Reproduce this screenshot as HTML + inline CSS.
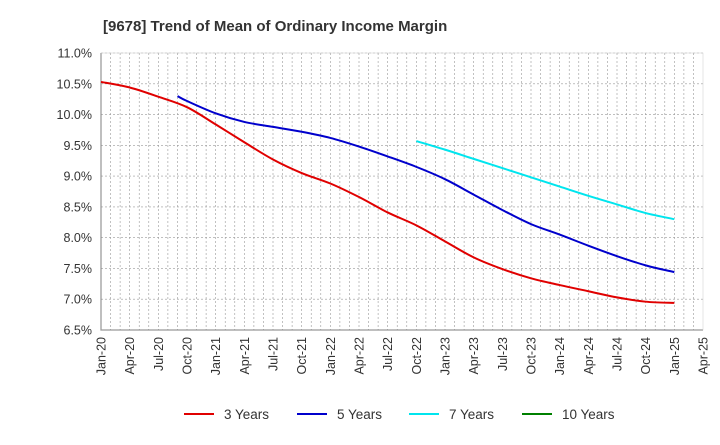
<!DOCTYPE html>
<html><head><meta charset="utf-8"><style>
body{margin:0;background:#fff;font-family:"Liberation Sans",sans-serif}
svg text{font-family:"Liberation Sans",sans-serif;fill:#333}
</style></head><body>
<svg id="c" width="720" height="440">
<text x="103" y="31" font-size="15" font-weight="bold">[9678]  Trend of Mean of Ordinary Income Margin</text>
<g id="grid"></g><g id="axes"></g><g id="lines"></g><g id="legend"></g>
</svg>
<script>
const xTicks=["Jan-20","Apr-20","Jul-20","Oct-20","Jan-21","Apr-21","Jul-21","Oct-21","Jan-22","Apr-22","Jul-22","Oct-22","Jan-23","Apr-23","Jul-23","Oct-23","Jan-24","Apr-24","Jul-24","Oct-24","Jan-25","Apr-25","Jul-25"];
const yTicks=[6.5,7.0,7.5,8.0,8.5,9.0,9.5,10.0,10.5,11.0];
const s3Start=0;
const s3=[10.53,10.44,10.29,10.12,9.84,9.55,9.27,9.05,8.88,8.66,8.41,8.2,7.94,7.68,7.49,7.34,7.23,7.13,7.03,6.96,6.94];
const s5Start=2.67;
const s5=[10.3,10.22,10.02,9.88,9.8,9.72,9.62,9.48,9.32,9.15,8.95,8.7,8.45,8.22,8.05,7.87,7.7,7.55,7.44];
const s7Start=11;
const s7=[9.57,9.43,9.28,9.13,8.98,8.83,8.68,8.54,8.4,8.3];
const NS="http://www.w3.org/2000/svg";
const L=101,R=703,T=53,B=330;
const X=q=>L+q*(R-L)/21;
const Y=v=>B-(v-6.5)*(B-T)/4.5;
function mk(t,a,p){const e=document.createElementNS(NS,t);for(const k in a)e.setAttribute(k,a[k]);p.appendChild(e);return e;}
const grid=document.getElementById('grid'),axes=document.getElementById('axes');
for(let m=1;m<63;m++){const x=L+m*(R-L)/63;const g=mk('line',{x1:x,x2:x,y1:T,y2:B,stroke:'#999','stroke-dasharray':'2,2','stroke-width':0.6},grid);

}
yTicks.forEach(v=>{const y=Y(v);const g=mk('line',{x1:L,x2:R,y1:y,y2:y,stroke:'#999','stroke-dasharray':'2,2','stroke-width':0.6},grid);


const t=mk('text',{x:92,y:y+4.5,'font-size':12.5,'text-anchor':'end'},axes);t.textContent=v.toFixed(1)+'%';

});
xTicks.slice(0,22).forEach((s,i)=>{const x=X(i);const t=mk('text',{x:0,y:0,'font-size':12.5,'text-anchor':'end',transform:`translate(${x+4.5},${337}) rotate(-90)`},axes);t.textContent=s;

});
const fr=mk('path',{d:`M${L},${T}V${B}H${R}`,fill:'none',stroke:'#333','stroke-width':1},axes);


const fr2=mk('rect',{x:L,y:T,width:R-L,height:B-T,fill:'none',stroke:'#ccc','stroke-width':0.5},axes);


function path(start,arr){const p=arr.map((v,i)=>[X(start+(i==0?0:i-(start%1?0:0))+0),Y(v)]);
// positions: first point at start, subsequent at quarterly ticks
const pts=arr.map((v,i)=>[X(i==0?start:Math.ceil(start)+i-(Number.isInteger(start)?0:1)),Y(v)]);
let d=`M${pts[0][0]},${pts[0][1]}`;
for(let i=0;i<pts.length-1;i++){const p0=pts[Math.max(0,i-1)],p1=pts[i],p2=pts[i+1],p3=pts[Math.min(pts.length-1,i+2)];
d+=`C${p1[0]+(p2[0]-p0[0])/6},${p1[1]+(p2[1]-p0[1])/6} ${p2[0]-(p3[0]-p1[0])/6},${p2[1]-(p3[1]-p1[1])/6} ${p2[0]},${p2[1]}`;}
return d;}
const lines=document.getElementById('lines');
[[s3Start,s3,'#e00000','line-3-years'],[s5Start,s5,'#0000cc','line-5-years'],[s7Start,s7,'#00e5ee','line-7-years']].forEach(([s,a,c,n])=>{
const e=mk('path',{d:path(s,a),fill:'none',stroke:c,'stroke-width':2},lines);

});
const lg=document.getElementById('legend');
[['3 Years','#e00000',184],['5 Years','#0000cc',297],['7 Years','#00e5ee',409],['10 Years','#008000',522]].forEach(([t,c,x])=>{
const l=mk('line',{x1:x,x2:x+30,y1:414,y2:414,stroke:c,'stroke-width':2},lg);


const tx=mk('text',{x:x+40,y:419,'font-size':13.5},lg);tx.textContent=t;

});
</script>
</body></html>
